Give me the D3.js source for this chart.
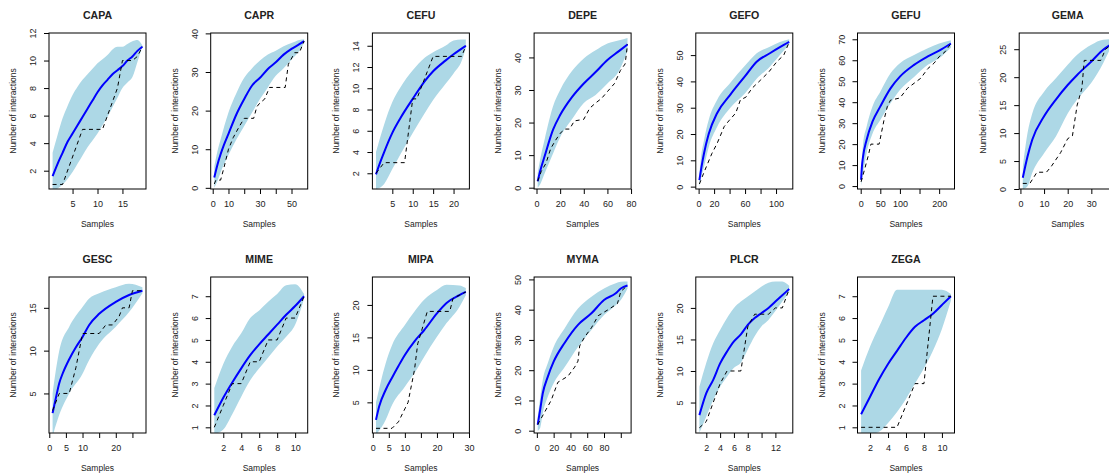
<!DOCTYPE html>
<html>
<head>
<meta charset="utf-8">
<script src="https://cdn.jsdelivr.net/npm/d3@7"></script>
<style>
  body { margin: 0; background: #fff; }
  svg { display: block; font-family: "Liberation Sans", Arial, sans-serif; }
</style>
</head>
<body>
<svg id="chart"></svg>
<script>
// Rarefaction panels: one entry per species, same order everywhere
const panelNames = ["CAPA", "CAPR", "CEFU", "DEPE", "GEFO", "GEFU", "GEMA",
                    "GESC", "MIME", "MIPA", "MYMA", "PLCR", "ZEGA"];

const sampleCounts = [19, 58, 23, 77, 117, 230, 39, 28, 11, 29, 108, 14, 11];

const yDomains = [
  [0.67, 12.0], [-0.3, 40.1], [0.52, 15.2], [-0.4, 47.5], [-0.9, 58.4], [-1.4, 73.0], [0, 27.9],
  [0.38, 18.6], [0.74, 7.88], [0.28, 24.3], [-0.76, 50.8], [0.17, 24.9], [0.74, 7.88]
];

const xTicks = [
  [5, 10, 15], [0, 10, 20, 30, 40, 50], [5, 10, 15, 20], [0, 20, 40, 60, 80],
  [0, 20, 40, 60, 80, 100], [0, 50, 100, 150, 200], [0, 10, 20, 30, 40],
  [0, 5, 10, 15, 20, 25], [2, 4, 6, 8, 10], [0, 5, 10, 15, 20, 25, 30],
  [0, 20, 40, 60, 80, 100], [2, 4, 6, 8, 10, 12], [2, 4, 6, 8, 10]
];
// labels R managed to fit; "" = tick without label
const xTickLabels = [
  ["5", "10", "15"], ["0", "10", "", "30", "", "50"], ["5", "10", "15", "20"],
  ["0", "20", "40", "60", "80"], ["0", "20", "", "60", "", "100"],
  ["0", "50", "100", "", "200"], ["0", "10", "20", "30", "40"],
  ["0", "5", "10", "", "20", ""], ["2", "4", "6", "8", "10"],
  ["0", "5", "10", "", "20", "", "30"], ["0", "20", "40", "60", "80", ""],
  ["2", "4", "6", "8", "", "12"], ["2", "4", "6", "8", "10"]
];

const yTicks = [
  [2, 4, 6, 8, 10, 12], [0, 10, 20, 30, 40], [2, 4, 6, 8, 10, 12, 14], [0, 10, 20, 30, 40],
  [0, 10, 20, 30, 40, 50], [0, 10, 20, 30, 40, 50, 60, 70], [0, 5, 10, 15, 20, 25],
  [5, 10, 15], [1, 2, 3, 4, 5, 6, 7], [5, 10, 15, 20], [0, 10, 20, 30, 40, 50],
  [5, 10, 15, 20], [1, 2, 3, 4, 5, 6, 7]
];

// mean rarefied interactions [samples, value]
const meanCurves = [
  [[1,1.6],[2,2.5],[3,3.3],[4,4.1],[5,4.7],[6,5.3],[7,5.9],[8,6.5],[9,7.1],[10,7.7],[11,8.2],[12,8.6],[13,9.0],[14,9.3],[15,9.6],[16,10.0],[17,10.3],[18,10.7],[19,11.0]],
  [[1,2.7],[3,6],[5,8.7],[7,11],[10,14],[15,19],[20,23],[25,26.5],[30,28.5],[35,30.8],[40,32.5],[45,34.5],[50,36],[55,37.2],[58,38]],
  [[1,1.9],[2,3.0],[3,4.0],[5,5.8],[7,7.2],[10,9.0],[13,10.7],[15,11.6],[18,12.6],[20,13.2],[23,14.0]],
  [[1,2],[3,5],[7,9.8],[14,17.8],[20,22.3],[30,27.8],[40,32],[50,35.5],[60,39.2],[70,42],[77,44]],
  [[1,2.5],[4,8],[7,12.7],[13,20],[24,28],[41,35],[60,42],[75,47.5],[92,50.7],[105,53],[117,55]],
  [[1,3],[3,9],[6,14],[15,22],[30,30.7],[50,38],[76,46.6],[100,52.2],[136,57.8],[170,61.7],[200,64.6],[230,68]],
  [[1,2],[3,5.8],[5,8.8],[10,13],[15,16],[20,18.6],[24,20.4],[30,22.8],[35,24.9],[39,26]],
  [[1,2.7],[2,4.5],[3,6.2],[4,7.3],[6,9],[8,10.4],[10,11.6],[12,13],[15,14.3],[20,15.7],[24,16.5],[28,17]],
  [[1,1.55],[2,2.35],[3,3.05],[4,3.7],[5,4.3],[6,4.8],[7,5.25],[8,5.7],[9,6.15],[10,6.55],[11,7.0]],
  [[1,2.3],[2,4.4],[4,6.9],[6,8.8],[8,10.6],[10,12.3],[13,14.4],[16,16.1],[20,18.7],[23,20.3],[27,21.5],[29,22]],
  [[1,2],[4,7],[7,12.3],[13,17.8],[20,22.8],[33,29],[49,35],[65,38.8],[80,43.2],[94,45.4],[100,47],[108,48]],
  [[1,3],[2,6.5],[3,8.6],[4,11.2],[5,13.1],[6,14.7],[7,15.8],[8,17.3],[9,18.4],[10,19.2],[11,20],[12,21],[13,22],[14,23]],
  [[1,1.6],[2,2.4],[3,3.2],[4,3.9],[5,4.5],[6,5.1],[7,5.6],[8,5.9],[9,6.2],[10,6.6],[11,7.0]]
];

// confidence band [samples, lower, upper]
const confBands = [
  [[1,0.5,3.3],[2,0.7,4.6],[3,1.0,5.8],[4,1.4,6.7],[5,1.9,7.5],[6,2.5,8.1],[7,3.1,8.6],[8,3.7,9.0],[9,4.2,9.4],[10,4.7,9.8],[11,5.3,10.1],[12,5.9,10.4],[13,6.6,10.8],[14,7.3,11.0],[15,8.0,11.0],[16,8.4,11.2],[17,8.8,11.4],[18,9.9,11.5],[19,11.0,11.1]],
  [[1,0,5.5],[3,1.8,9.5],[5,4,12.5],[10,8.5,19.5],[15,12.5,24.5],[20,16,28.5],[25,19.5,31],[30,23,33],[35,26,34.5],[40,29,35.5],[45,31,36.7],[50,33.2,37.5],[55,35.5,38.3],[58,37.5,38.5]],
  [[1,0.5,4.0],[3,1.0,6.6],[5,2.4,8.7],[7,3.8,10.1],[10,5.8,11.7],[13,7.7,12.9],[15,8.9,13.4],[18,10.4,14.0],[20,11.4,14.5],[22,12.6,14.6],[23,13.8,14.6]],
  [[1,0,4.5],[3,1,8.5],[7,4.5,15],[14,10.5,25],[20,15.5,30],[30,21,35.8],[40,26,39.7],[50,28.5,42.2],[60,32,44.3],[70,36,45.3],[77,42,46]],
  [[1,0,5],[3,3,11],[7,7.6,17.7],[13,15,25.3],[24,22.8,33],[41,30,39.5],[60,35.5,46],[75,41,50.7],[92,45.6,53.2],[105,50,55],[117,54,56]],
  [[1,0,7],[6,6,20],[15,15.6,28.3],[30,25,38],[50,31.5,45],[76,39.5,53.8],[100,45.8,58.6],[136,52,62.5],[171,57.8,65.7],[200,61,68],[230,66,69.5]],
  [[1,0,4],[3,0.5,10],[5,2.9,13.5],[10,6.4,17.4],[15,9.4,19.8],[20,13.5,22.2],[24,16,24],[30,19,25.8],[35,22.5,26.7],[39,26,26.8]],
  [[1,0,5],[3,2.5,10],[6,5,12.8],[10,7.3,15.1],[12,8.9,16.1],[15,10.8,16.7],[20,12.8,17.4],[24,14.5,17.8],[28,16.7,17.4]],
  [[1,0.7,2.8],[2,0.9,3.9],[3,1.6,4.7],[4,2.4,5.3],[5,3.15,6.0],[6,3.7,6.35],[7,4.2,6.75],[8,4.7,7.1],[9,5.15,7.5],[10,5.7,7.55],[11,6.9,7.1]],
  [[1,0,5],[4,2.3,11],[6,4.6,13.8],[10,7.4,16.9],[13,9.5,19],[16,12,20.8],[20,15.1,22.3],[23,17.2,23.1],[27,19.7,23],[29,21.5,22.6]],
  [[1,0,4.5],[4,1,11],[7,5.7,16.7],[13,11.2,22.3],[20,15.7,27.7],[33,21,33.8],[49,27.7,40.4],[65,33.3,44.3],[80,38.2,47],[94,41.5,48.7],[100,43.2,49.2],[108,47,49.3]],
  [[1,0.2,7.5],[2,2.8,11.3],[3,5.4,14.4],[4,7.5,16.5],[5,9.1,18.4],[6,10.5,20],[7,11.3,21],[8,13.4,21.8],[9,15.5,22.6],[10,17.1,23.4],[11,18.1,24],[12,19.5,24.2],[13,21,24.2],[14,22.5,23.5]],
  [[1,0.7,3.6],[2,0.7,4.7],[3,0.8,5.6],[4,1.2,6.5],[5,1.7,7.3],[6,2.3,7.3],[7,3.0,7.3],[8,3.7,7.3],[9,4.5,7.3],[10,5.5,7.3],[11,6.8,7.1]]
];

// observed accumulation (dashed) [samples, interactions]
const observedCurves = [
  [[1,1],[3,1],[7,5],[11,5],[12,6],[13,7],[14,8],[15,10],[17,10],[18,10.3],[19,11]],
  [[1,1],[2,2],[5,2],[7,5],[10,10],[13,13],[17,16],[20,18],[26,18],[28,21],[30,22],[33,23],[36,26],[46,26],[48,32],[52,35],[55,35],[58,38]],
  [[1,2],[3,3],[8,3],[10,9],[11,9],[12,10],[15,13],[22,13],[23,14]],
  [[1,2],[4,5],[8,7.5],[12,12],[16,14.5],[20,16.7],[24,18],[28,18],[32,20.5],[40,21],[45,24.4],[50,26],[55,27.4],[60,29.5],[66,32],[71,36],[75,38],[77,44]],
  [[1,1],[5,4],[10,7.6],[17,12.5],[24,16.5],[33,22.8],[39,25],[48,28],[54,33],[61,34],[69,37.4],[80,40.5],[91,43.7],[101,47.5],[110,50],[117,55]],
  [[1,2],[10,8],[20,15],[26,20],[47,20],[60,32],[68,38],[76,41],[100,42],[119,46.6],[136,49],[153,51.4],[171,56],[187,58.6],[200,61.7],[215,64],[230,68]],
  [[1,1],[4,1],[7,3],[11,3],[13,4],[17,6.5],[20,9],[22,9.5],[24,15],[26,18],[27,23],[34,23],[36,25],[39,26]],
  [[1,3],[2,4],[3,5],[6,5],[8,8],[10,12],[15,12],[17,13],[19,13],[21,14],[22,15],[24,15],[25,17],[28,17]],
  [[1,1],[2,2],[3,3],[4,3],[5,4],[6,4],[7,5],[8,5],[9,6],[10,6],[11,7]],
  [[1,1],[6,1],[8,2],[10,4],[11,5],[13,10],[14,14],[17,19],[24,19],[25,21],[29,22]],
  [[1,2],[9,6],[17,10],[25,16],[37,18],[45,21],[49,23],[51,28],[57,31],[65,34],[73,38],[85,40],[96,42],[100,46],[108,48]],
  [[1,1],[2,2],[3,5],[4,8],[5,10],[6,10],[7,10],[8,17],[9,19],[10,19],[11,19],[12,20],[13,20],[14,23]],
  [[1,1],[2,1],[3,1],[4,1],[5,1],[6,2],[7,3],[8,3],[9,7],[10,7],[11,7]]
];

(function () {
  const W = 1109, H = 476;
  const COLS = 7, COL_W = 161.7, ROW_H = 244;
  const P = { left: 49, top: 33, width: 97, height: 156 };
  const BAND = "#ADD8E6";
  const MEAN = "#0000FF";
  const INK = "#222";

  const svg = d3.select("#chart").attr("width", W).attr("height", H);

  panelNames.forEach((name, i) => {
    const col = i % COLS, row = Math.floor(i / COLS);
    const g = svg.append("g")
      .attr("transform", `translate(${P.left + col * COL_W},${P.top + row * ROW_H})`);

    // R style 4% axis extension on x
    const n = sampleCounts[i];
    const pad = 0.04 * (n - 1);
    const x = d3.scaleLinear().domain([1 - pad, n + pad]).range([0, P.width]);
    const y = d3.scaleLinear().domain(yDomains[i]).range([P.height, 0]);

    const clipId = "clip" + i;
    g.append("clipPath").attr("id", clipId)
      .append("rect").attr("width", P.width).attr("height", P.height);

    const plot = g.append("g").attr("clip-path", `url(#${clipId})`);

    const area = d3.area()
      .x(d => x(d[0])).y0(d => y(d[1])).y1(d => y(d[2]))
      .curve(d3.curveMonotoneX);
    plot.append("path").datum(confBands[i])
      .attr("fill", BAND).attr("d", area);

    const meanLine = d3.line()
      .x(d => x(d[0])).y(d => y(d[1]))
      .curve(d3.curveMonotoneX);
    plot.append("path").datum(meanCurves[i])
      .attr("fill", "none").attr("stroke", MEAN)
      .attr("stroke-width", 2).attr("d", meanLine);

    const obsLine = d3.line().x(d => x(d[0])).y(d => y(d[1]));
    plot.append("path").datum(observedCurves[i])
      .attr("fill", "none").attr("stroke", "#000")
      .attr("stroke-width", 1).attr("stroke-dasharray", "4,3.5")
      .attr("d", obsLine);

    // box
    g.append("rect")
      .attr("width", P.width).attr("height", P.height)
      .attr("fill", "none").attr("stroke", "#000").attr("stroke-width", 1);

    // X axis
    const labs = xTickLabels[i];
    const xa = g.append("g")
      .attr("transform", `translate(0,${P.height})`)
      .call(d3.axisBottom(x).tickValues(xTicks[i])
        .tickSize(5).tickSizeOuter(0).tickPadding(7)
        .tickFormat((d, k) => labs[k]));
    xa.select(".domain").remove();
    xa.selectAll(".tick line").attr("stroke", "#000");
    xa.selectAll(".tick text").attr("fill", INK)
      .attr("font-size", 9).attr("font-family", null);

    // Y axis, labels parallel to the axis
    const ya = g.append("g")
      .call(d3.axisLeft(y).tickValues(yTicks[i])
        .tickSize(5).tickSizeOuter(0));
    ya.select(".domain").remove();
    ya.selectAll(".tick line").attr("stroke", "#000");
    ya.selectAll(".tick text")
      .attr("fill", INK).attr("font-size", 9).attr("font-family", null)
      .attr("x", 0).attr("y", -13).attr("dy", 0)
      .attr("text-anchor", "middle")
      .attr("transform", "rotate(-90)");

    // titles
    g.append("text")
      .attr("x", P.width / 2).attr("y", -14)
      .attr("text-anchor", "middle")
      .attr("font-size", 10.6).attr("font-weight", "bold")
      .attr("fill", INK)
      .text(name);

    g.append("text")
      .attr("x", P.width / 2).attr("y", P.height + 38)
      .attr("text-anchor", "middle")
      .attr("font-size", 8.5).attr("fill", INK)
      .text("Samples");

    g.append("text")
      .attr("transform", "rotate(-90)")
      .attr("x", -P.height / 2).attr("y", -33)
      .attr("text-anchor", "middle")
      .attr("font-size", 8.5).attr("fill", INK)
      .text("Number of interactions");
  });
})();
</script>
</body>
</html>
